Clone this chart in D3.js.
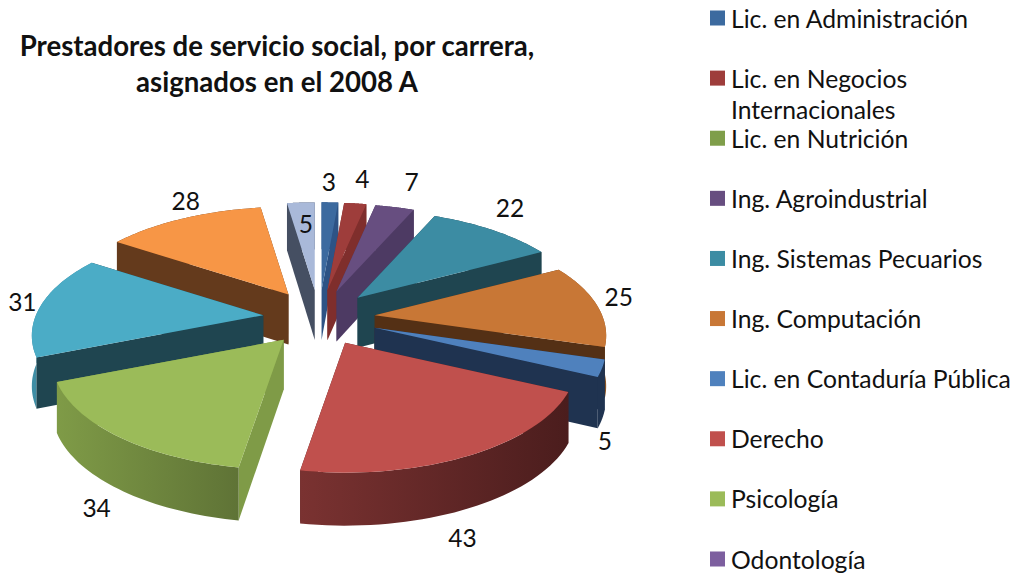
<!DOCTYPE html>
<html>
<head>
<meta charset="utf-8">
<script src="https://cdn.jsdelivr.net/npm/d3@7"></script>
<style>
  html, body { margin: 0; padding: 0; background: #fff; }
  text { font-family: Lato, "Open Sans", sans-serif; fill: #111; }
</style>
</head>
<body>
<div id="chart"></div>
<script>
var titleLines = ["Prestadores de servicio social, por carrera,", "asignados en el 2008 A"];
// legend is cut off by the picture after Odontología
var legendLabels = [
    ["Lic. en Administración"],
    ["Lic. en Negocios", "Internacionales"],
    ["Lic. en Nutrición"],
    ["Ing. Agroindustrial"],
    ["Ing. Sistemas Pecuarios"],
    ["Ing. Computación"],
    ["Lic. en Contaduría Pública"],
    ["Derecho"],
    ["Psicología"],
    ["Odontología"]
];
var values = [3, 4, 0, 7, 22, 25, 5, 43, 34, 0, 31, 28, 5];
var topColors = ["#3c6a9f", "#9e3d3b", "#7f9e4a", "#674e80", "#3c8ca3", "#c87736", "#4f81bd", "#c0504d", "#9bbb59", "#7d5f9f", "#4bacc6", "#f79646", "#a9b9d9"];
var edgeColors = ["#2d5385", "#7f2e2c", "#5f7636", "#4d3a63", "#1f4550", "#543015", "#1f3350", "#4f1f1f", "#7f9b47", "#5d4677", "#1f4550", "#643a1c", "#454f62"];
var rimLeft = ["#2d5385", "#7f2e2c", "#5f7636", "#4d3a63", "#1f4550", "#8a5526", "#1f3350", "#7a3231", "#7f9b47", "#5d4677", "#3f8ea5", "#643a1c", "#454f62"];
var rimRight = ["#2d5385", "#7f2e2c", "#5f7636", "#4d3a63", "#1f4550", "#8a5526", "#1f3350", "#4b1d1d", "#5f7336", "#5d4677", "#3f8ea5", "#643a1c", "#454f62"];
// label offset from the middle of each slice rim
var labelNudge = [[-1, -21], [7, -25], [0, 0], [17, -26], [18, -22], [22, -8], [3, 72], [-7, 82], [-22, 71], [0, 0], [-19, -3], [1, -18], [5, 21]];

var width = 1017,
    height = 578;
var center = {x: 319, y: 318};
var explode = {x: 56, y: 28};
var radius = {x: 232, y: 111};
// near side of the plate is drawn bigger than the far side
var perspective = d3.scaleLinear().domain([-1, 1]).range([0.79, 1.17]);
var depth = d3.scaleLinear().domain([-1, 1]).range([47, 53]);

var svg = d3.select("#chart").append("svg")
    .attr("width", width)
    .attr("height", height);
var defs = svg.append("defs");

var line = d3.line();
var polygon = function(pts) { return line(pts) + "Z"; };

var slices = d3.pie().sort(null).value(function(d) { return d; })(values);

function apexOf(s) {
    // the thin Contaduría slice sits a little further out so it hides the orange wall
    var extra = s.index === 6 ? 3 : 0;
    return [center.x + extra + explode.x * Math.sin(s.mid), center.y - explode.y * Math.cos(s.mid)];
}
function rimPoint(apex, angle) {
    var y = -Math.cos(angle);
    var f = perspective(y);
    return [apex[0] + radius.x * f * Math.sin(angle), apex[1] + radius.y * f * y];
}
function drop(p, y) {
    return [p[0], p[1] + depth(y)];
}

var drawn = slices.filter(function(s) { return s.value > 0; });
drawn.forEach(function(s) {
    s.mid = (s.startAngle + s.endAngle) / 2;
    s.apex = apexOf(s);
});
// paint far slices first
drawn.sort(function(a, b) { return a.apex[1] - b.apex[1]; });

var pieGroup = svg.append("g");
drawn.forEach(function(s) {
    var g = pieGroup.append("g");
    var n = 40;
    var angles = d3.range(n + 1).map(function(i) {
        return s.startAngle + (s.endAngle - s.startAngle) * i / n;
    });
    var rim = angles.map(function(a) { return rimPoint(s.apex, a); });
    var rimLow = angles.map(function(a, i) { return drop(rim[i], -Math.cos(a)); });

    var gradId = "rim" + s.index;
    var grad = defs.append("linearGradient").attr("id", gradId);
    grad.append("stop").attr("offset", "0%").attr("stop-color", rimLeft[s.index]);
    grad.append("stop").attr("offset", "100%").attr("stop-color", rimRight[s.index]);

    var walls = [
        {key: -Math.cos(s.startAngle) / 2, fill: edgeColors[s.index],
         pts: [s.apex, rim[0], rimLow[0], drop(s.apex, 0)]},
        {key: -Math.cos(s.endAngle) / 2, fill: edgeColors[s.index],
         pts: [s.apex, rim[n], rimLow[n], drop(s.apex, 0)]},
        {key: -Math.cos(s.mid), fill: "url(#" + gradId + ")",
         pts: rim.concat(rimLow.slice().reverse())}
    ];
    walls.sort(function(a, b) { return a.key - b.key; });
    walls.forEach(function(w) {
        g.append("path").attr("d", polygon(w.pts)).attr("fill", w.fill);
    });
    g.append("path")
        .attr("d", polygon([s.apex].concat(rim)))
        .attr("fill", topColors[s.index]);
});

// value labels
drawn.forEach(function(s) {
    var p = rimPoint(s.apex, s.mid);
    var nudge = labelNudge[s.index];
    svg.append("text")
        .attr("x", p[0] + nudge[0])
        .attr("y", p[1] + nudge[1])
        .attr("text-anchor", "middle")
        .attr("dominant-baseline", "central")
        .attr("font-size", 24.5)
        .text(s.value);
});

// title
svg.selectAll(".title").data(titleLines).enter().append("text")
    .attr("class", "title")
    .attr("x", 277)
    .attr("y", function(d, i) { return 45 + i * 36; })
    .attr("text-anchor", "middle")
    .attr("dominant-baseline", "central")
    .attr("font-size", 27.6)
    .attr("font-weight", "bold")
    .text(function(d) { return d; });

// legend
var legendY = d3.scaleLinear().domain([0, 9]).range([18, 559]);
var legend = svg.selectAll(".legend").data(legendLabels).enter().append("g")
    .attr("class", "legend")
    .attr("transform", function(d, i) { return "translate(710," + legendY(i) + ")"; });
legend.append("rect")
    .attr("y", -7.5)
    .attr("width", 15)
    .attr("height", 15)
    .attr("fill", function(d, i) { return topColors[i]; });
legend.each(function(d) {
    var row = d3.select(this);
    d.forEach(function(txt, j) {
        row.append("text")
            .attr("x", 21)
            .attr("y", j * 31)
            .attr("dominant-baseline", "central")
            .attr("font-size", 24.7)
            .text(txt);
    });
});
</script>
</body>
</html>
